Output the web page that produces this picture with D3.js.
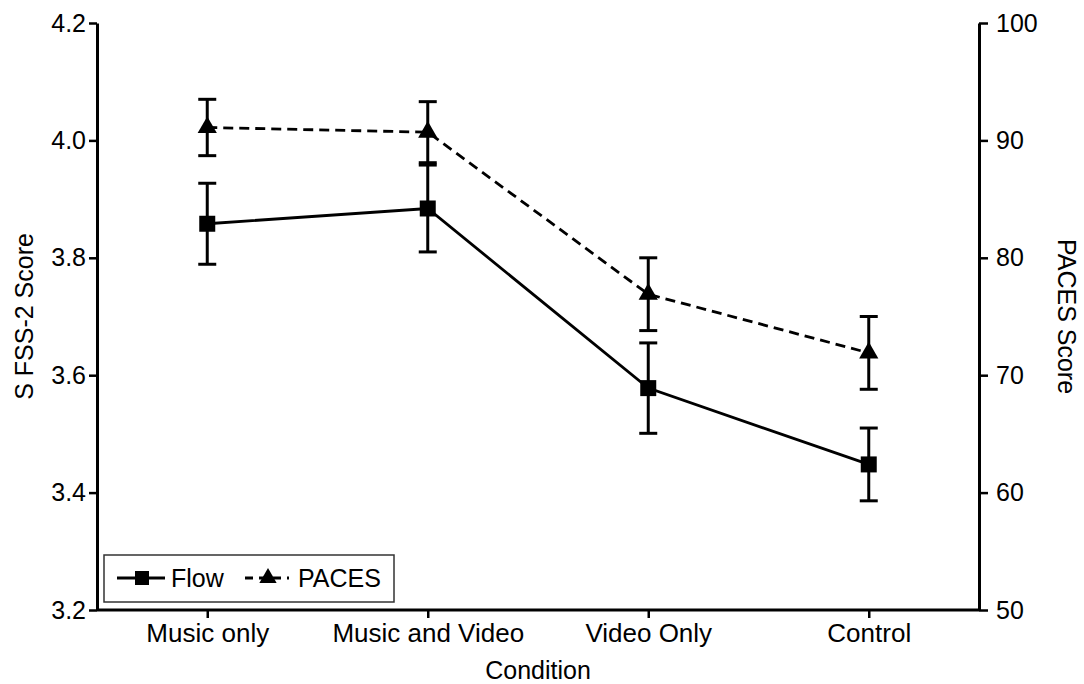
<!DOCTYPE html>
<html><head><meta charset="utf-8">
<script src="https://cdn.jsdelivr.net/npm/d3@7"></script>
<style>body{margin:0;background:#fff}svg{display:block}text{font-family:"Liberation Sans",Arial,sans-serif;fill:#000}</style>
</head><body><svg id="c" width="1084" height="684"></svg>
<script>
const categories = ["Music only", "Music and Video", "Video Only", "Control"];
const flowMean = [3.858, 3.884, 3.578, 3.448];
const flowErr  = [0.069, 0.074, 0.077, 0.062];
const pacesMean = [91.1, 90.7, 76.9, 71.9];
const pacesErr  = [2.4, 2.6, 3.1, 3.1];
const leftTicks = [3.2, 3.4, 3.6, 3.8, 4.0, 4.2];
const rightTicks = [50, 60, 70, 80, 90, 100];

const svg = d3.select("#c");
const L = 97, R = 979, T = 23, B = 610;
const FS = "25px";
const x = d3.scalePoint().domain(categories).range([L, R]).padding(0.5);
const yL = d3.scaleLinear().domain([3.2, 4.2]).range([B, T]);
const yR = d3.scaleLinear().domain([50, 100]).range([B, T]);

function styleAxis(fs){
  return g=>{
    g.selectAll("path.domain").attr("stroke","#000").attr("stroke-width",3);
    g.selectAll(".tick line").attr("stroke","#000").attr("stroke-width",2.5);
    g.selectAll(".tick text").style("font-size",fs).style("font-family","'Liberation Sans',Arial,sans-serif");
  };
}
svg.append("g").attr("transform",`translate(${L},0)`)
  .call(d3.axisLeft(yL).tickValues(leftTicks).tickFormat(d3.format(".1f")).tickSize(8).tickSizeOuter(0).tickPadding(3))
  .call(styleAxis(FS));
svg.append("g").attr("transform",`translate(${R},0)`)
  .call(d3.axisRight(yR).tickValues(rightTicks).tickSize(9).tickSizeOuter(0).tickPadding(8))
  .call(styleAxis(FS));
svg.append("g").attr("transform",`translate(0,${B})`)
  .call(d3.axisBottom(x).tickSize(8).tickSizeOuter(0).tickPadding(6))
  .call(styleAxis("26px"))
  .call(g=>g.select("path.domain").attr("d",`M${L},0H${R}`));

// axis titles
svg.append("text").attr("transform",`translate(33,${(T+B)/2}) rotate(-90)`).attr("text-anchor","middle").style("font-size",FS).text("S FSS-2 Score");
svg.append("text").attr("transform",`translate(1058,${(T+B)/2}) rotate(90)`).attr("text-anchor","middle").style("font-size",FS).text("PACES Score");
svg.append("text").attr("x",(L+R)/2).attr("y",679).attr("text-anchor","middle").style("font-size",FS).text("Condition");

const capW = 9;
function errorBars(mean, err, y){
  const g = svg.append("g").attr("stroke","#000").attr("stroke-width",3);
  categories.forEach((c,i)=>{
    const cx = x(c), y1 = y(mean[i]+err[i]), y2 = y(mean[i]-err[i]);
    g.append("line").attr("x1",cx).attr("x2",cx).attr("y1",y1).attr("y2",y2);
    g.append("line").attr("x1",cx-capW).attr("x2",cx+capW).attr("y1",y1).attr("y2",y1);
    g.append("line").attr("x1",cx-capW).attr("x2",cx+capW).attr("y1",y2).attr("y2",y2);
  });
}
errorBars(pacesMean, pacesErr, yR);
errorBars(flowMean, flowErr, yL);

const line = (y)=>d3.line().x((d,i)=>x(categories[i])).y(d=>y(d));
svg.append("path").datum(pacesMean).attr("d",line(yR)).attr("fill","none").attr("stroke","#000").attr("stroke-width",2.8).attr("stroke-dasharray","10,6");
svg.append("path").datum(flowMean).attr("d",line(yL)).attr("fill","none").attr("stroke","#000").attr("stroke-width",2.8);

const sq = d3.symbol().type(d3.symbolSquare).size(256);
const tri = d3.symbol().type(d3.symbolTriangle).size(160);
svg.append("g").selectAll("path").data(flowMean).join("path")
  .attr("transform",(d,i)=>`translate(${x(categories[i])},${yL(d)})`).attr("d",sq).attr("fill","#000");
svg.append("g").selectAll("path").data(pacesMean).join("path")
  .attr("transform",(d,i)=>`translate(${x(categories[i])},${yR(d)})`).attr("d",tri).attr("fill","#000");

// legend
const lg = svg.append("g");
lg.append("rect").attr("x",104).attr("y",555).attr("width",290).attr("height",47).attr("fill","#fff").attr("stroke","#333").attr("stroke-width",1.5);
lg.append("line").attr("x1",117).attr("x2",165).attr("y1",578).attr("y2",578).attr("stroke","#000").attr("stroke-width",3);
lg.append("path").attr("transform","translate(142,578)").attr("d",d3.symbol().type(d3.symbolSquare).size(196)).attr("fill","#000");
lg.append("text").attr("x",171).attr("y",587).style("font-size","25px").text("Flow");
lg.append("line").attr("x1",245).attr("x2",289).attr("y1",578).attr("y2",578).attr("stroke","#000").attr("stroke-width",3).attr("stroke-dasharray","8,6");
lg.append("path").attr("transform","translate(268,578)").attr("d",d3.symbol().type(d3.symbolTriangle).size(130)).attr("fill","#000");
lg.append("text").attr("x",298).attr("y",587).style("font-size","25px").text("PACES");
</script></body></html>
